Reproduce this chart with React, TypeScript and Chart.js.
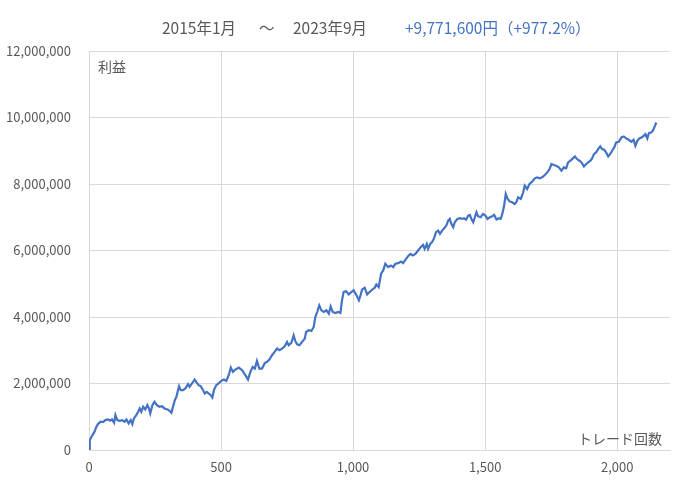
import { useEffect, useRef } from "react";
import Chart from "chart.js/auto";

// trade count at each read point
const trades = [
  0, 3, 13, 21, 28, 34, 44, 53, 62, 72, 80, 87, 95, 100, 107, 116, 125, 135, 142, 150, 158,
  164, 170, 179, 186, 192, 198, 205, 213, 221, 227, 232, 240, 248, 257, 267, 276, 286, 297,
  305, 312, 318, 325, 331, 337, 341, 347, 356, 365, 375, 381, 390, 400, 406, 415, 423, 432,
  438, 446, 453, 461, 467, 473, 482, 491, 501, 511, 520, 529, 537, 545, 554,
  567, 580, 592, 602, 611, 620, 628, 636, 645, 655, 666, 674, 683, 693, 703, 712, 721, 731,
  741, 750, 756, 766, 775, 781, 788, 797, 807, 817, 822, 832, 842, 851, 857, 864, 872, 880,
  889, 899, 908, 915, 923, 933, 943, 952, 958, 964, 973, 983, 993, 1002, 1011, 1022, 1028,
  1034, 1044, 1053, 1062, 1072, 1082, 1088, 1097, 1106,
  1114, 1122, 1133, 1143, 1152, 1160, 1171, 1181, 1189, 1198, 1208, 1217, 1226, 1236, 1246,
  1256, 1265, 1271, 1279, 1284, 1292, 1299, 1307, 1314, 1322, 1329, 1337, 1345, 1353, 1360,
  1366, 1372, 1379, 1385, 1395, 1404, 1413, 1420, 1428, 1436, 1442, 1448, 1455, 1461, 1467,
  1473, 1483, 1492, 1501, 1509, 1518, 1527, 1534, 1543, 1552, 1559, 1565, 1572, 1578, 1585,
  1594, 1602, 1612, 1619, 1625, 1635, 1644, 1650,
  1659, 1668, 1678, 1688, 1697, 1705, 1716, 1726, 1735, 1744, 1751, 1760, 1769, 1779, 1789,
  1798, 1807, 1814, 1823, 1832, 1840, 1848, 1857, 1865, 1874, 1883, 1890, 1899, 1905, 1912,
  1920, 1928, 1936, 1943, 1951, 1958, 1966, 1973, 1981, 1989, 1996, 2006, 2016, 2025, 2034,
  2044, 2054, 2062, 2069, 2076, 2084, 2092, 2100, 2107, 2114, 2120, 2128, 2135, 2143, 2148,
];

// cumulative profit in thousand yen
const profitK = [
  0, 300, 450, 550, 700, 780, 850, 840, 900, 920, 880, 920, 820, 1050, 900, 880, 900, 850, 920,
  800, 900, 780, 950, 1050, 1150, 1250, 1150, 1300, 1220, 1350, 1250, 1100, 1350, 1450, 1350,
  1300, 1320, 1250, 1220, 1180, 1120, 1300, 1500, 1600, 1800, 1920, 1800, 1800, 1850, 1980,
  1900, 2000, 2120, 2050, 1950, 1920, 1800, 1700, 1750, 1700, 1650, 1580, 1800, 1950, 2000,
  2080, 2120, 2080, 2250, 2480, 2350, 2420,
  2480, 2400, 2250, 2120, 2350, 2500, 2450, 2680, 2450, 2450, 2620, 2650, 2720, 2850, 2950,
  3050, 3000, 3050, 3120, 3250, 3150, 3220, 3450, 3280, 3180, 3150, 3250, 3350, 3550, 3600,
  3580, 3700, 4000, 4150, 4350, 4200, 4150, 4200, 4100, 4320, 4150, 4120, 4150, 4120, 4500,
  4750, 4780, 4680, 4750, 4800, 4680, 4500, 4650, 4820, 4880, 4680, 4750, 4820, 4880, 4980,
  4900, 5300,
  5400, 5600, 5500, 5550, 5500, 5600, 5620, 5670, 5620, 5720, 5830, 5900, 5850, 5900, 6000,
  6100, 6170, 6050, 6200, 6050, 6200, 6250, 6370, 6550, 6600, 6500, 6600, 6670, 6750, 6900,
  6950, 6800, 6700, 6850, 6950, 6970, 6950, 6970, 6930, 7050, 7070, 6950, 6850, 7000, 7150,
  7030, 7000, 7100, 7050, 6950, 7000, 7030, 7070, 6930, 6970, 6950, 7100, 7350, 7700, 7550,
  7470, 7450, 7400, 7470, 7600, 7550, 7750, 7950,
  7850, 8000, 8070, 8170, 8200, 8170, 8200, 8270, 8350, 8450, 8600, 8570, 8550, 8500, 8400,
  8500, 8470, 8650, 8700, 8770, 8830, 8750, 8700, 8650, 8530, 8600, 8650, 8700, 8770, 8900,
  8950, 9050, 9130, 9050, 9030, 8950, 8830, 8900, 9000, 9100, 9250, 9270, 9400, 9430, 9370,
  9330, 9270, 9330, 9150, 9300, 9370, 9400, 9450, 9500, 9370, 9530, 9550, 9600, 9750, 9850,
];

const xTicks = [0, 500, 1000, 1500, 2000];

const periodFrom = "2015年1月";
const periodTo = "2023年9月";
const totalGain = "+9,771,600円";
const totalRate = "（+977.2%）";

const FONT = "'Noto Sans CJK JP', 'Noto Sans', sans-serif";
const GRAY = "#595959";
const BLUE = "#4472C4";
const GRID = "#d9d9d9";

const fmt = (v: number | string) => Number(v).toLocaleString("en-US");

// axis titles sit inside the plot area
const axisTitles = {
  id: "axisTitles",
  afterDraw(chart: Chart) {
    const { ctx, chartArea } = chart;
    ctx.save();
    ctx.font = `14px ${FONT}`;
    ctx.fillStyle = GRAY;
    ctx.textBaseline = "middle";
    ctx.textAlign = "left";
    ctx.fillText("利益", chartArea.left + 9, chartArea.top + 16);
    ctx.textAlign = "right";
    ctx.fillText("トレード回数", chartArea.right - 8, chartArea.bottom - 11);
    ctx.restore();
  },
};

const App = () => {
  const canvasRef = useRef<HTMLCanvasElement | null>(null);
  const chartRef = useRef<Chart | null>(null);

  useEffect(() => {
    document.body.style.margin = "0";
    if (!canvasRef.current) return;
    if (chartRef.current) chartRef.current.destroy();

    chartRef.current = new Chart(canvasRef.current, {
      type: "line",
      data: {
        datasets: [
          {
            data: trades.map((t, i) => ({ x: t, y: profitK[i] * 1000 })),
            borderColor: BLUE,
            borderWidth: 2.2,
            pointRadius: 0,
            tension: 0,
          },
        ],
      },
      options: {
        animation: false,
        responsive: true,
        maintainAspectRatio: false,
        layout: { padding: { top: 51, right: 30, bottom: 0, left: 0 } },
        plugins: {
          legend: { display: false },
          tooltip: { enabled: false },
        },
        scales: {
          x: {
            type: "linear",
            min: 0,
            max: 2200,
            afterBuildTicks: (scale) => {
              scale.ticks = xTicks.map((v) => ({ value: v }));
            },
            afterFit: (scale) => {
              scale.height = 32;
            },
            ticks: {
              color: GRAY,
              font: { family: FONT, size: 13 },
              padding: 9,
              callback: (v) => fmt(v),
            },
            grid: { color: GRID, drawTicks: false },
            border: { color: GRID },
          },
          y: {
            min: 0,
            max: 12000000,
            afterFit: (scale) => {
              scale.width = 89;
            },
            ticks: {
              stepSize: 2000000,
              color: GRAY,
              font: { family: FONT, size: 13 },
              padding: 18,
              callback: (v) => fmt(v),
            },
            grid: { color: GRID, drawTicks: false },
            border: { color: GRID },
          },
        },
      },
      plugins: [axisTitles],
    });

    return () => {
      if (chartRef.current) {
        chartRef.current.destroy();
        chartRef.current = null;
      }
    };
  }, []);

  return (
    <div style={{ position: "relative", width: 700, height: 482, background: "#fff", fontFamily: FONT }}>
      <div style={{ position: "absolute", top: 16, left: 0, width: 700, height: 22, fontSize: 15.5, lineHeight: "22px", whiteSpace: "nowrap" }}>
        <span style={{ position: "absolute", left: 162, color: GRAY }}>{periodFrom}</span>
        <span style={{ position: "absolute", left: 259, color: GRAY }}>～</span>
        <span style={{ position: "absolute", left: 293, color: GRAY }}>{periodTo}</span>
        <span style={{ position: "absolute", left: 405, color: BLUE }}>
          {totalGain}
          {totalRate}
        </span>
      </div>
      <canvas ref={canvasRef}></canvas>
    </div>
  );
};

export default App;
